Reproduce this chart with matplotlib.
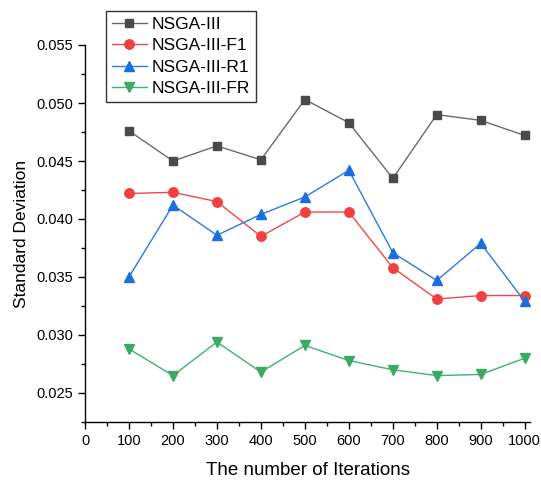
import matplotlib
matplotlib.use("Agg")
import matplotlib.pyplot as plt
from matplotlib.ticker import MultipleLocator

plt.rcParams['font.family'] = ['Liberation Sans', 'DejaVu Sans']

iterations = [100, 200, 300, 400, 500, 600, 700, 800, 900, 1000]
nsga3 = [0.0476, 0.0450, 0.0463, 0.0451, 0.0503, 0.0483, 0.0435, 0.0490, 0.0485, 0.0472]
nsga3_f1 = [0.0422, 0.0423, 0.0415, 0.0385, 0.0406, 0.0406, 0.0358, 0.0331, 0.0334, 0.0334]
nsga3_r1 = [0.0350, 0.0412, 0.0386, 0.0404, 0.0419, 0.0442, 0.0371, 0.0347, 0.0379, 0.0329]
nsga3_fr = [0.0288, 0.0265, 0.0294, 0.0268, 0.0291, 0.0278, 0.0270, 0.0265, 0.0266, 0.0280]
labels = ['NSGA-III', 'NSGA-III-F1', 'NSGA-III-R1', 'NSGA-III-FR']

fig = plt.figure(figsize=(5.41, 4.82), dpi=100)
ax = fig.add_axes([85/541, 1-422/482, 445/541, (422-45)/482])

series = [nsga3, nsga3_f1, nsga3_r1, nsga3_fr]
line_colors = ['#6a6a6a', '#f04848', '#2a7ae0', '#3cb371']
mark_colors = ['#4a4a4a', '#f04040', '#1a6fe0', '#3aaa66']
markers = ['s', 'o', '^', 'v']
msizes = [6.2, 6.8, 7.2, 7.2]
handles = []
for s, lc, mc, m, ms, lab in zip(series, line_colors, mark_colors, markers, msizes, labels):
    h, = ax.plot(iterations, s, color=lc, lw=1.0, marker=m, markersize=ms,
                 markerfacecolor=mc, markeredgecolor=mc, label=lab)
    handles.append(h)

ax.set_xlim(0, 1012)
ax.set_ylim(0.0225, 0.055)
ax.xaxis.set_major_locator(MultipleLocator(100))
ax.xaxis.set_minor_locator(MultipleLocator(50))
ax.yaxis.set_major_locator(MultipleLocator(0.005))
ax.yaxis.set_minor_locator(MultipleLocator(0.0025))
ax.yaxis.set_major_formatter(matplotlib.ticker.FormatStrFormatter('%.3f'))
ax.spines['top'].set_visible(False)
ax.spines['right'].set_visible(False)
for sp in ['left', 'bottom']:
    ax.spines[sp].set_linewidth(1.0)
ax.tick_params(which='major', direction='out', length=5, width=1.0, labelsize=10.5, colors='black')
ax.tick_params(which='minor', direction='out', length=3, width=1.0)
ax.set_xlabel('The number of Iterations', fontsize=13.5, labelpad=10)
ax.set_ylabel('Standard Deviation', fontsize=12.5, labelpad=5)

leg = fig.legend(handles=handles, loc='upper left',
                 bbox_to_anchor=(106/541, 1-11/482), fontsize=12.5,
                 frameon=True, fancybox=False, edgecolor='black',
                 handlelength=2.0, handletextpad=0.3, borderpad=0.35,
                 labelspacing=0.35, borderaxespad=0)
leg.get_frame().set_linewidth(1.0)

fig.savefig('out.png', dpi=100)
